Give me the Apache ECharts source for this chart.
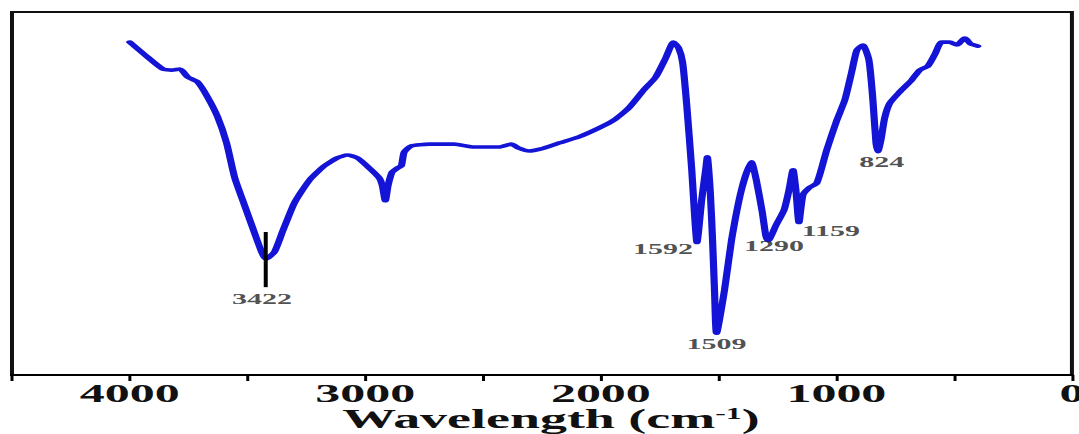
<!DOCTYPE html>
<html>
<head>
<meta charset="utf-8">
<script src="https://cdn.jsdelivr.net/npm/echarts@6/dist/echarts.min.js"></script>
<style>
html,body{margin:0;padding:0;background:#fff;overflow:hidden;}
#wrap{width:1079px;height:434px;overflow:hidden;position:relative;}
#c{width:540px;height:434px;transform:scaleX(1.998);transform-origin:0 0;}
</style>
</head>
<body>
<div id="wrap"><div id="c"></div></div>
<script>
// IR spectrum: wavenumber (cm-1) and relative transmittance (%)
const wavenumbers = [4000,3936,3860,3822,3788,3754,3712,3670,3627,3589,3555,3513,3470,3441,3422,3386,3352,3301,3237,3174,3119,3076,3034,2983,2941,2928,2915,2903,2886,2864,2847,2835,2805,2729,2623,2538,2432,2381,2348,2305,2254,2178,2093,2009,1945,1881,1818,1767,1725,1691,1670,1653,1636,1614,1602,1592,1572,1555,1548,1535,1525,1517,1509,1475,1445,1403,1361,1340,1315,1300,1290,1256,1222,1201,1184,1172,1159,1142,1117,1083,1041,998,964,935,913,888,862,845,832,824,811,795,773,731,680,646,612,583,553,519,489,455,430,400];
const transmittance = [91.7,88.2,84.3,84.0,84.3,82.1,80.7,76.6,71.1,63.9,54.5,46.8,39.1,34.0,32.0,33.9,39.4,47.4,53.7,57.6,59.8,60.6,59.8,57.0,54.3,52.3,48.0,52.3,55.9,57.0,57.6,61.4,63.1,63.6,63.6,62.8,62.8,63.6,62.5,61.7,62.3,63.9,65.6,68.0,70.2,73.6,78.5,82.1,87.3,91.7,90.1,86.2,74.9,56.5,44.1,36.5,48.2,56.5,60.1,50.0,36.0,22.5,11.5,23.4,37.2,51.0,58.7,53.7,45.0,38.5,37.0,41.3,45.5,51.0,56.5,51.0,42.0,49.6,51.5,52.9,62.0,70.2,75.8,83.5,89.5,90.9,86.8,75.8,64.0,61.5,64.7,70.8,74.9,78.0,81.3,84.0,85.1,88.2,91.7,91.7,90.9,92.8,91.2,90.6];
const peakWavenumbers = [3422,1592,1509,1290,1159,824];
const peakValues = [32.0,36.5,11.5,37.0,42.0,61.5];
const markerLine = {wn:3422, from:39.4, to:24.2};
const xTickLabels = [4000,3000,2000,1000,0];

// label placement (style only)
const peakLabelOffsets = [[-2,40],[-17,6],[0,11],[3,5],[16,8],[2,10]];

const lineData = wavenumbers.map((w,i)=>[w, transmittance[i]]);
const peakData = peakWavenumbers.map((w,i)=>({
  value:[w, peakValues[i]],
  label:{offset:peakLabelOffsets[i]}
}));

const serif = "'Liberation Serif', 'Times New Roman', serif";
const chart = echarts.init(document.getElementById('c'), null, {renderer:'svg'});
chart.setOption({
  animation:false,
  backgroundColor:'#fff',
  grid:{left:6,right:3.5,top:12,bottom:59,containLabel:false,outerBoundsMode:'none',
        show:true,borderColor:'#111',borderWidth:2,backgroundColor:'transparent'},
  xAxis:{
    type:'value', min:0, max:4500, interval:500, inverse:true,
    axisLine:{show:true,lineStyle:{color:'#000',width:2}},
    axisTick:{show:true,length:6,lineStyle:{color:'#000',width:1.5}},
    splitLine:{show:false},
    axisLabel:{
      margin:6, showMinLabel:true, showMaxLabel:true,
      fontFamily:serif, fontWeight:'bold', fontSize:25, color:'#111',
      formatter:v=> xTickLabels.indexOf(v)>=0 ? String(v) : ''
    },
    name:'{a|Wavelength (cm}{s|-1}{a|)}',
    nameLocation:'middle', nameGap:30, nameMoveOverlap:false,
    nameTextStyle:{
      padding:[0,0,0,9],
      rich:{
        a:{fontFamily:serif,fontWeight:'bold',fontSize:27,lineHeight:27,color:'#111'},
        s:{fontFamily:serif,fontWeight:'bold',fontSize:16,color:'#111',verticalAlign:'top'}
      }
    }
  },
  yAxis:{
    type:'value', min:0, max:100,
    axisLine:{show:false}, axisTick:{show:false}, axisLabel:{show:false}, splitLine:{show:false}
  },
  series:[
    {
      type:'line', data:lineData, smooth:0.2, showSymbol:false, symbol:'none',
      lineStyle:{color:'#1414d6',width:3.6,cap:'round',join:'round'},
      markLine:{
        silent:true, symbol:['none','none'], label:{show:false},
        lineStyle:{color:'#000',width:2,type:'solid'},
        data:[[{coord:[markerLine.wn, markerLine.from]},{coord:[markerLine.wn, markerLine.to]}]]
      },
      z:3
    },
    {
      type:'scatter', data:peakData, symbolSize:0, silent:true,
      label:{
        show:true, position:'inside',
        formatter:p=>String(p.value[0]),
        fontFamily:serif, fontWeight:'bold', fontSize:15, color:'#222'
      },
      z:4
    }
  ]
});
</script>
</body>
</html>
